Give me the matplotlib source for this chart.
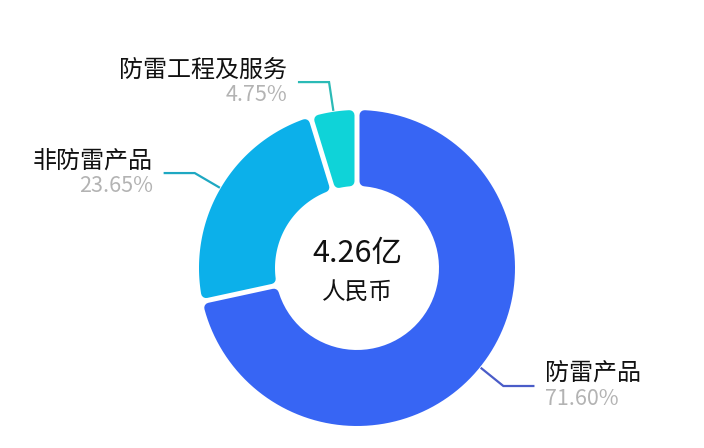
import numpy as np
import matplotlib.pyplot as plt
from matplotlib.patches import Polygon

plt.rcParams['font.family'] = ['Noto Sans CJK SC', 'DejaVu Sans']

# data
names = ['防雷产品', '非防雷产品', '防雷工程及服务']
shares = [71.60, 23.65, 4.75]
colors = ['#3765f4', '#0cb0ea', '#0fd3d8']
line_colors = ['#4a5cc8', '#1ea8c2', '#2bbab6']
total_text = '4.26亿'
unit_text = '人民币'

W, H = 704, 448
fig = plt.figure(figsize=(W / 100, H / 100), dpi=100)
ax = fig.add_axes([0, 0, 1, 1])
ax.set_xlim(0, W)
ax.set_ylim(0, H)
ax.set_aspect('equal')
ax.axis('off')

cx, cy = 357, H - 268
R, r = 158, 82
corner = 5
gap = 5


def ring_piece(a1, a2):
    # wedge between angles a1 > a2 (clockwise), side edges kept parallel so the gap is even
    Ro, Ri = R - corner, r + corner
    d = gap / 2 + corner
    o1 = a1 - np.degrees(np.arcsin(d / Ro))
    o2 = a2 + np.degrees(np.arcsin(d / Ro))
    i1 = a1 - np.degrees(np.arcsin(d / Ri))
    i2 = a2 + np.degrees(np.arcsin(d / Ri))
    to = np.radians(np.linspace(o1, o2, 120))
    ti = np.radians(np.linspace(i2, i1, 60))
    xs = np.concatenate([cx + Ro * np.cos(to), cx + Ri * np.cos(ti)])
    ys = np.concatenate([cy + Ro * np.sin(to), cy + Ri * np.sin(ti)])
    return np.column_stack([xs, ys])


start = 90.0
for name, val, col, lc in zip(names, shares, colors, line_colors):
    sweep = val / sum(shares) * 360
    a1, a2 = start, start - sweep
    ax.add_patch(Polygon(ring_piece(a1, a2), closed=True, facecolor=col,
                         edgecolor=col, linewidth=corner * 2 * 0.72,
                         joinstyle='round'))
    mid = np.radians((a1 + a2) / 2)
    x0, y0 = cx + (R + 2) * np.cos(mid), cy + (R + 2) * np.sin(mid)
    x1, y1 = cx + (R + 30) * np.cos(mid), cy + (R + 30) * np.sin(mid)
    side = 1 if np.cos(mid) >= 0 else -1
    x2 = x1 + side * 30
    ax.plot([x0, x1, x2], [y0, y1, y1], color=lc, lw=1.6, solid_joinstyle='miter')
    ha = 'left' if side > 0 else 'right'
    tx = x2 + side * 12
    ax.text(tx, y1 + 12, name, ha=ha, va='center', fontsize=17.3, color='#111111')
    ax.text(tx, y1 - 13, f'{val:.2f}%', ha=ha, va='center', fontsize=15.5, color='#b3b3b3')
    start = a2

ax.text(cx, H - 253, total_text, ha='center', va='center', fontsize=22, color='#111111')
ax.text(cx, H - 293, unit_text, ha='center', va='center', fontsize=17, color='#111111')

fig.savefig('out.png', dpi=100, facecolor='white')
